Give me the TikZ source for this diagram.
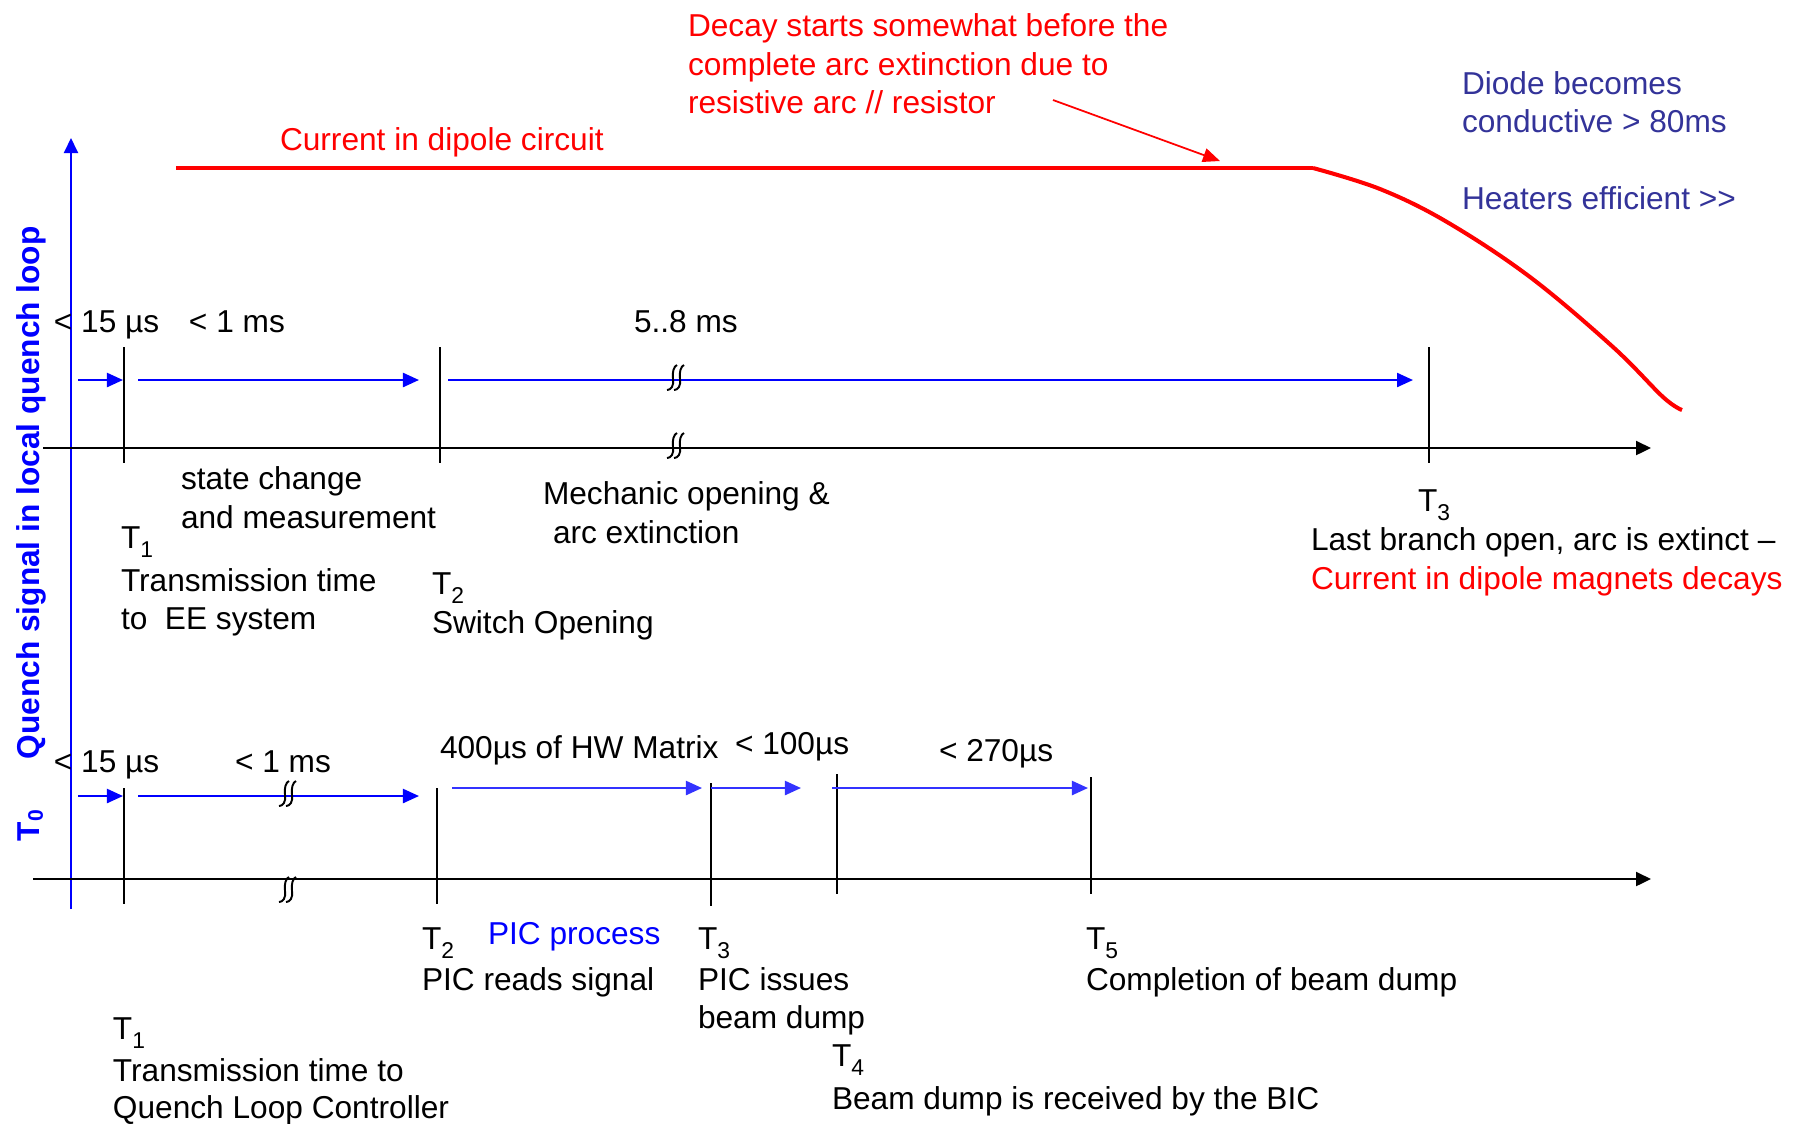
\documentclass[tikz,border=0pt]{standalone}
\usepackage{fontspec}
\setmainfont{Liberation Sans}
\usetikzlibrary{arrows.meta}
\definecolor{darkblue}{RGB}{51,51,153}
\definecolor{lightblue}{RGB}{51,51,255}
\definecolor{curred}{RGB}{255,0,0}
% lowered index digit after a time mark
\newcommand\tsub[1]{\raisebox{-0.55ex}{\fontsize{6.5pt}{7pt}\selectfont #1}}
\begin{document}
\begin{tikzpicture}[x=0.01cm,y=-0.01cm,
  lbl/.style={inner sep=0pt, outer sep=0pt, anchor=base west,
              font=\fontsize{9pt}{11pt}\selectfont},
  tick/.style={line width=0.55pt, black},
  axis/.style={line width=0.65pt, black, -{Triangle[length=1.5mm,width=1.4mm]}},
  span/.style={line width=0.65pt, blue, -{Triangle[length=1.6mm,width=1.4mm]}},
  span2/.style={span, lightblue},
  brk/.pic={
    \draw[line width=0.55pt, black]
      (-8,10) .. controls (-4,10) and (-1,6) .. (-2,-1)
              .. controls (-3,-8) and (-1,-14) .. (2,-15);
    \draw[line width=0.55pt, black]
      (-1,10) .. controls (3,10) and (6,6) .. (5,-1)
              .. controls (4,-8) and (6,-14) .. (9,-15);
  }
]
\useasboundingbox (0,0) rectangle (1805,1123);

% ---------- vertical axis and its label ----------
\coordinate (yb) at (71,909);
\coordinate (yt) at (71,138);
\draw[line width=0.6pt, blue, -{Triangle[length=1.5mm,width=1.4mm]}] (yb) -- (yt);
\node[inner sep=0pt, anchor=base west, rotate=90, text=blue,
      font=\fontsize{9pt}{11pt}\selectfont\bfseries] (ylab) at (39,760)
  {Quench signal in local quench loop};
\node[inner sep=0pt, anchor=base west, rotate=90, text=blue,
      font=\fontsize{9pt}{11pt}\selectfont\bfseries] (t0) at (39,842)
  {T\textsubscript{0}};

% ---------- current in the dipole circuit ----------
\coordinate (ca) at (176,168);
\coordinate (cb) at (1313,168);
\draw[line width=1.15pt, curred] (ca) -- (cb);
\draw[line width=1.15pt, curred] plot[smooth, tension=0.6] coordinates
  {(1313,168) (1380,189) (1447,222) (1530,277) (1613,347) (1663,397) (1682,410)};
\node[lbl, text=curred] (cur) at (280,150) {Current in dipole circuit};

\node[lbl, text=curred] (d1) at (688,36) {Decay starts somewhat before the};
\node[lbl, text=curred] (d2) at (688,75) {complete arc extinction due to};
\node[lbl, text=curred] (d3) at (688,113) {resistive arc // resistor};
\coordinate (da) at (1053,100);
\coordinate (db) at (1220,161);
\draw[line width=0.5pt, curred, -{Triangle[length=1.7mm,width=1.4mm]}] (da) -- (db);

\node[lbl, text=darkblue] (di1) at (1462,94) {Diode becomes};
\node[lbl, text=darkblue] (di2) at (1462,132) {conductive > 80ms};
\node[lbl, text=darkblue] (he) at (1462,209) {Heaters efficient {>}{>}};

% ---------- upper time line: energy extraction ----------
\coordinate (ua0) at (43,448);
\coordinate (ua1) at (1651,448);
\draw[axis] (ua0) -- (ua1);

\coordinate (u1t) at (124,347);  \coordinate (u1b) at (124,463);
\coordinate (u2t) at (440,347);  \coordinate (u2b) at (440,463);
\coordinate (u3t) at (1429,347); \coordinate (u3b) at (1429,463);
\draw[tick] (u1t) -- (u1b);
\draw[tick] (u2t) -- (u2b);
\draw[tick] (u3t) -- (u3b);

\coordinate (ur0) at (78,380);   \coordinate (ur1) at (123,380);
\coordinate (ur2) at (138,380);  \coordinate (ur3) at (419,380);
\coordinate (ur4) at (448,380);  \coordinate (ur5) at (1413,380);
\draw[span] (ur0) -- (ur1);
\draw[span] (ur2) -- (ur3);
\draw[span] (ur4) -- (ur5);
\pic at (675,380) {brk};
\pic at (675,448) {brk};

\node[lbl] (u15) at (54,332) {< 15 µs};
\node[lbl] (u1ms) at (189,332) {< 1 ms};
\node[lbl] (u58) at (634,332) {5..8 ms};

\node[lbl] (sc1) at (181,489) {state change};
\node[lbl] (sc2) at (181,528) {and measurement};
\node[lbl] (mo1) at (543,504) {Mechanic opening \&};
\node[lbl] (mo2) at (553,543) {arc extinction};

\node[lbl] (ut1) at (121,548) {T\tsub{1}};
\node[lbl] (ut1a) at (121,591) {Transmission time};
\node[lbl] (ut1b) at (121,629) {to\ \ EE system};
\node[lbl] (ut2) at (432,594) {T\tsub{2}};
\node[lbl] (ut2a) at (432,633) {Switch Opening};
\node[lbl] (ut3) at (1418,511) {T\tsub{3}};
\node[lbl] (ut3a) at (1311,550) {Last branch open, arc is extinct –};
\node[lbl, text=curred] (ut3b) at (1311,589) {Current in dipole magnets decays};

% ---------- lower time line: powering interlock ----------
\coordinate (la0) at (33,879);
\coordinate (la1) at (1651,879);
\draw[axis] (la0) -- (la1);

\coordinate (l1t) at (124,788);  \coordinate (l1b) at (124,904);
\coordinate (l2t) at (437,788);  \coordinate (l2b) at (437,904);
\coordinate (l3t) at (711,783);  \coordinate (l3b) at (711,906);
\coordinate (l4t) at (837,774);  \coordinate (l4b) at (837,894);
\coordinate (l5t) at (1091,777); \coordinate (l5b) at (1091,894);
\draw[tick] (l1t) -- (l1b);
\draw[tick] (l2t) -- (l2b);
\draw[tick] (l3t) -- (l3b);
\draw[tick] (l4t) -- (l4b);
\draw[tick] (l5t) -- (l5b);

\coordinate (lr0) at (78,796);   \coordinate (lr1) at (123,796);
\coordinate (lr2) at (138,796);  \coordinate (lr3) at (419,796);
\coordinate (lr4) at (452,788);  \coordinate (lr5) at (702,788);
\coordinate (lr6) at (711,788);  \coordinate (lr7) at (801,788);
\coordinate (lr8) at (832,788);  \coordinate (lr9) at (1088,788);
\draw[span] (lr0) -- (lr1);
\draw[span] (lr2) -- (lr3);
\draw[span2] (lr4) -- (lr5);
\draw[span2] (lr6) -- (lr7);
\draw[span2] (lr8) -- (lr9);
\pic at (287,796) {brk};
\pic at (287,892) {brk};

\node[lbl] (l15) at (54,772) {< 15 µs};
\node[lbl] (l1ms) at (235,772) {< 1 ms};
\node[lbl] (l400) at (440,758) {400µs of HW Matrix};
\node[lbl] (l100) at (735,754) {< 100µs};
\node[lbl] (l270) at (939,761) {< 270µs};

\node[lbl] (lt2) at (422,949) {T\tsub{2}};
\node[lbl, text=blue] (pic) at (488,944) {PIC process};
\node[lbl] (lt2a) at (422,990) {PIC reads signal};
\node[lbl] (lt3) at (698,949) {T\tsub{3}};
\node[lbl] (lt3a) at (698,990) {PIC issues};
\node[lbl] (lt3b) at (698,1028) {beam dump};
\node[lbl] (lt5) at (1086,949) {T\tsub{5}};
\node[lbl] (lt5a) at (1086,990) {Completion of beam dump};
\node[lbl] (lt1) at (113,1039) {T\tsub{1}};
\node[lbl] (lt1a) at (113,1081) {Transmission time to};
\node[lbl] (lt1b) at (113,1118) {Quench Loop Controller};
\node[lbl] (lt4) at (832,1066) {T\tsub{4}};
\node[lbl] (lt4a) at (832,1109) {Beam dump is received by the BIC};
\end{tikzpicture}
\end{document}
